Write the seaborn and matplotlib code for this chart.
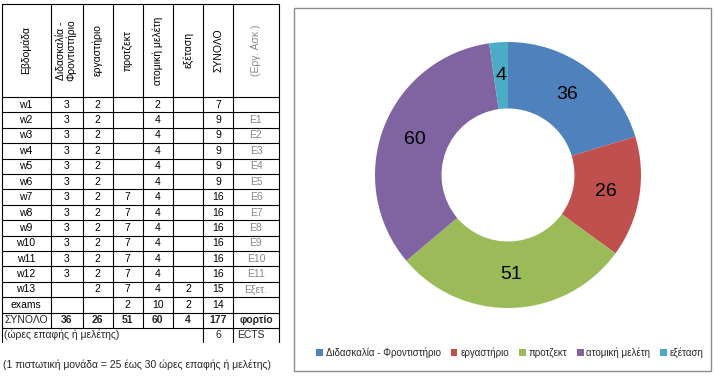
import numpy as np
import pandas as pd
import matplotlib
matplotlib.use("Agg")
import matplotlib.pyplot as plt
from matplotlib.patches import Rectangle
import seaborn as sns

# --- Data ---
WEEKS = ['w1', 'w2', 'w3', 'w4', 'w5', 'w6', 'w7', 'w8', 'w9', 'w10', 'w11', 'w12', 'w13', 'exams']
DIDASKALIA = [3, 3, 3, 3, 3, 3, 3, 3, 3, 3, 3, 3, None, None]
ERGASTIRIO = [2, 2, 2, 2, 2, 2, 2, 2, 2, 2, 2, 2, 2, None]
PROJECT = [None, None, None, None, None, None, 7, 7, 7, 7, 7, 7, 7, 2]
MELETI = [2, 4, 4, 4, 4, 4, 4, 4, 4, 4, 4, 4, 4, 10]
EXETASI = [None, None, None, None, None, None, None, None, None, None, None, None, 2, 2]
SYNOLO = [7, 9, 9, 9, 9, 9, 16, 16, 16, 16, 16, 16, 15, 14]
ERG_ASK = ['', 'E1', 'E2', 'E3', 'E4', 'E5', 'E6', 'E7', 'E8', 'E9', 'E10', 'E11', 'Εξετ.', '']

HEADERS = ['Εβδομάδα', 'Διδασκαλία -\nΦροντιστήριο', 'εργαστήριο', 'προτζεκτ',
           'ατομική μελέτη', 'εξέταση', 'ΣΥΝΟΛΟ', '(Εργ. Ασκ.)']
TOTALS = [36, 26, 51, 60, 4, 177]
ECTS = 6

CATEGORIES = ['Διδασκαλία - Φροντιστήριο', 'εργαστήριο', 'προτζεκτ', 'ατομική μελέτη', 'εξέταση']
HOURS = [36, 26, 51, 60, 4]
COLORS = ['#4f81bd', '#c0504d', '#9bbb59', '#8064a2', '#4bacc6']

NOTE = '(1 πιστωτική μονάδα = 25 έως 30 ώρες επαφής ή μελέτης)'

df = pd.DataFrame({'week': WEEKS, 'did': DIDASKALIA, 'erg': ERGASTIRIO, 'proj': PROJECT,
                   'mel': MELETI, 'exe': EXETASI, 'syn': SYNOLO, 'ask': ERG_ASK})

# --- Style ---
sns.set_style('white')
plt.rcParams['font.family'] = ['Liberation Sans', 'DejaVu Sans']

W, H = 714, 377
fig = plt.figure(figsize=(W / 100, H / 100), dpi=100)
ax = fig.add_axes([0, 0, 1, 1])
ax.set_xlim(0, W)
ax.set_ylim(H, 0)
ax.axis('off')

# --- Table ---
col_x = [1.5, 50.5, 82.5, 112.5, 142.5, 173, 203, 233, 279]
head_top, head_bot = 4, 97
row_h = 15.4
row_y = [head_bot + i * row_h for i in range(len(WEEKS) + 2)]
last_bot = 342
fs = 7.5
lw = 0.8

for y in [head_top] + row_y:
    ax.plot([col_x[0], col_x[-1]], [y, y], color='black', lw=lw)
for x in col_x:
    ax.plot([x, x], [head_top, row_y[-1]], color='black', lw=lw)
for x in [col_x[0], col_x[6], col_x[7], col_x[8]]:
    ax.plot([x, x], [row_y[-1], last_bot], color='black', lw=lw)

centers = [(col_x[i] + col_x[i + 1]) / 2 for i in range(len(col_x) - 1)]
for i, h in enumerate(HEADERS):
    ax.text(centers[i], (head_top + head_bot) / 2, h, rotation=90, ha='center', va='center',
            fontsize=fs, color='#888888' if i == 7 else 'black', linespacing=1.0)

cols = ['week', 'did', 'erg', 'proj', 'mel', 'exe', 'syn', 'ask']
for r, row in df.iterrows():
    yc = row_y[r] + row_h / 2
    for c, key in enumerate(cols):
        v = row[key]
        if v is None or (isinstance(v, float) and np.isnan(v)) or v == '':
            continue
        txt = str(int(v)) if isinstance(v, (int, float)) else str(v)
        ax.text(centers[c], yc, txt, ha='center', va='center', fontsize=fs,
                color='#888888' if key == 'ask' else 'black')

# totals row
yc = row_y[len(WEEKS)] + row_h / 2
ax.text(centers[0], yc, 'ΣΥΝΟΛΟ', ha='center', va='center', fontsize=fs)
for c, v in enumerate(TOTALS):
    ax.text(centers[c + 1], yc, str(v), ha='center', va='center', fontsize=fs, fontweight='bold')
ax.text(centers[7], yc, 'φορτίο', ha='center', va='center', fontsize=fs, fontweight='bold')

yc = (row_y[-1] + last_bot) / 2
ax.text(col_x[0] + 2, yc, '(ώρες επαφής ή μελέτης)', ha='left', va='center', fontsize=fs)
ax.text(centers[6], yc, str(ECTS), ha='center', va='center', fontsize=fs)
ax.text(col_x[7] + 4, yc, 'ECTS', ha='left', va='center', fontsize=fs)

ax.text(3, 365, NOTE, ha='left', va='center', fontsize=fs)

# --- Chart frame ---
ax.add_patch(Rectangle((294, 8), 417, 363, fill=False, edgecolor='#8c8c8c', lw=1))

# --- Donut ---
cx, cy, R = 508, 175, 133
pax = fig.add_axes([(cx - R) / W, (H - cy - R) / H, 2 * R / W, 2 * R / H])
wedges, _, autotexts = pax.pie(HOURS, colors=COLORS, startangle=90, counterclock=False,
                               radius=1, autopct=lambda p: f'{p * sum(HOURS) / 100:.0f}',
                               pctdistance=0.75, wedgeprops=dict(width=0.5, linewidth=0),
                               textprops=dict(fontsize=14, color='black'))
pax.set_xlim(-1, 1)
pax.set_ylim(-1, 1)
pax.set_aspect('equal')
pax.axis('off')

fig.legend(wedges, CATEGORIES, loc='center', bbox_to_anchor=(510 / W, 1 - 353 / H), ncol=5,
           frameon=False, fontsize=7, handlelength=0.7, handleheight=0.7, handletextpad=0.3,
           columnspacing=1.0)

fig.savefig('out.png', dpi=100)
